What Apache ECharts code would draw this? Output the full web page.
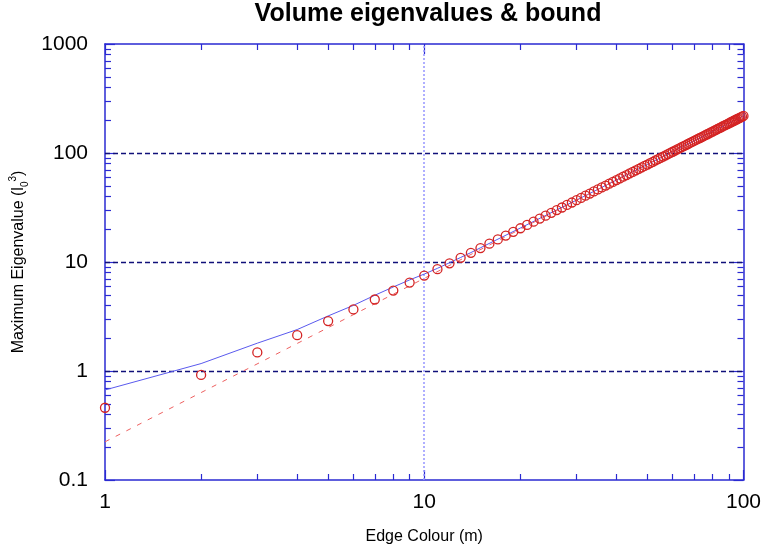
<!DOCTYPE html>
<html><head><meta charset="utf-8">
<script src="https://cdn.jsdelivr.net/npm/echarts@6/dist/echarts.min.js"></script>
<style>html,body{margin:0;padding:0;background:#fff}#c{width:764px;height:553px}</style>
</head><body><div id="c"></div>
<script>
const edgeColour = [
  1,2,3,4,5,6,7,8,9,10,
  11,12,13,14,15,16,17,18,19,20,
  21,22,23,24,25,26,27,28,29,30,
  31,32,33,34,35,36,37,38,39,40,
  41,42,43,44,45,46,47,48,49,50,
  51,52,53,54,55,56,57,58,59,60,
  61,62,63,64,65,66,67,68,69,70,
  71,72,73,74,75,76,77,78,79,80,
  81,82,83,84,85,86,87,88,89,90,
  91,92,93,94,95,96,97,98,99,100];
const maxEigenvalue = [
  0.46,0.92,1.48,2.13,2.87,3.67,4.53,5.47,6.47,7.50,
  8.59,9.73,10.92,12.15,13.43,14.74,16.10,17.49,18.93,20.39,
  21.90,23.44,25.01,26.62,28.26,29.93,31.63,33.37,35.13,36.92,
  38.74,40.60,42.48,44.38,46.32,48.28,50.27,52.28,54.32,56.39,
  58.48,60.60,62.74,64.90,67.09,69.31,71.54,73.80,76.09,78.39,
  80.72,83.07,85.45,87.84,90.26,92.70,95.16,97.64,100.1,102.7,
  105.2,107.8,110.4,113.0,115.6,118.2,120.9,123.6,126.3,129.0,
  131.7,134.5,137.3,140.1,142.9,145.7,148.6,151.5,154.3,157.3,
  160.2,163.1,166.1,169.1,172.1,175.1,178.1,181.1,184.2,187.3,
  190.4,193.5,196.6,199.8,202.9,206.1,209.3,212.5,215.8,219.0];
const boundX = [1,2,3,4,5,6,7,8,9,10,11,12,13,14,15,20,30,50,70,100];
const boundY = [0.67,1.17,1.80,2.40,3.20,4.00,4.95,5.90,6.85,7.75,8.75,9.85,11.0,12.2,13.5,20.5,37.0,78.5,129.1,219.1];
const asymX = [1,2,5,10,20,50,100];
const asymY = [0.224,0.634,2.50,7.08,20.0,79.2,224];
const xMajorTicks = [1,10,100];
const xMinorTicks = [2,3,4,5,6,7,8,9,20,30,40,50,60,70,80,90];
const yMajorTicks = [0.1,1,10,100,1000];
const yMinorTicks = [0.2,0.3,0.4,0.5,0.6,0.7,0.8,0.9,2,3,4,5,6,7,8,9,20,30,40,50,60,70,80,90,200,300,400,500,600,700,800,900];
const xGridValues = [10];
const yGridValues = [1,10,100];

const FONT = "'Liberation Sans', Arial, sans-serif";
const FRAME = '#2a2ad2';
const zip = (a, b) => a.map((v, i) => [v, b[i]]);

function xAx(pos, major, main) {
  return {
    type: 'log', logBase: 10, min: 1, max: 100, position: pos, gridIndex: 0,
    axisLine: { show: main, onZero: false, lineStyle: { color: FRAME, width: 1.5 } },
    axisTick: { show: true, inside: true, length: major ? 10 : 6, customValues: major ? xMajorTicks : xMinorTicks,
      lineStyle: { color: FRAME, width: 1.2 } },
    axisLabel: { show: main && pos === 'bottom', customValues: xMajorTicks, fontSize: 21, margin: 12,
      color: '#000', fontFamily: FONT, formatter: v => String(v) },
    splitLine: { show: false }, minorTick: { show: false },
    name: (main && pos === 'bottom') ? 'Edge Colour (m)' : '', nameLocation: 'middle', nameGap: 49,
    nameTextStyle: { fontSize: 16, color: '#000', fontFamily: FONT }
  };
}
function yAx(pos, major, main) {
  return {
    type: 'log', logBase: 10, min: 0.1, max: 1000, position: pos, gridIndex: 0,
    axisLine: { show: main, onZero: false, lineStyle: { color: FRAME, width: 1.5 } },
    axisTick: { show: true, inside: true, length: major ? 10 : 6, customValues: major ? yMajorTicks : yMinorTicks,
      lineStyle: { color: FRAME, width: 1.2 } },
    axisLabel: { show: main && pos === 'left', customValues: yMajorTicks, fontSize: 21, margin: 17,
      color: '#000', fontFamily: FONT, formatter: v => String(v) },
    splitLine: { show: false }, minorTick: { show: false },
    name: (main && pos === 'left') ? '{n|Maximum Eigenvalue (l}{sub|0}{sup|3}{n|)}' : '',
    nameLocation: 'middle', nameGap: 75, nameRotate: 90,
    nameTextStyle: { fontSize: 16, color: '#000', fontFamily: FONT,
      rich: {
        n: { fontSize: 16, fontFamily: FONT, color: '#000', lineHeight: 22, verticalAlign: 'middle' },
        sub: { fontSize: 10, fontFamily: FONT, color: '#000', verticalAlign: 'bottom', lineHeight: 22 },
        sup: { fontSize: 10, fontFamily: FONT, color: '#000', verticalAlign: 'top', lineHeight: 22 }
      } }
  };
}

const chart = echarts.init(document.getElementById('c'), null, { renderer: 'canvas' });
const gridLines = [];
xGridValues.forEach(v => gridLines.push({ xAxis: v, lineStyle: { color: '#9c9cff', type: [2, 2], width: 1.6 } }));
yGridValues.forEach(v => gridLines.push({ yAxis: v, lineStyle: { color: '#10107a', type: [5, 3], width: 1.3 } }));

chart.setOption({
  animation: false,
  backgroundColor: '#fff',
  title: {
    text: 'Volume eigenvalues & bound', left: 428, top: 2, padding: 0, textAlign: 'center',
    textStyle: { fontSize: 25, fontWeight: 'bold', color: '#000', fontFamily: FONT }
  },
  grid: { left: 104, right: 18, top: 44, bottom: 73, containLabel: false },
  xAxis: [xAx('bottom', true, true), xAx('bottom', false, false), xAx('top', true, true), xAx('top', false, false)],
  yAxis: [yAx('left', true, true), yAx('left', false, false), yAx('right', true, true), yAx('right', false, false)],
  series: [
    {
      type: 'line', name: 'bound', xAxisIndex: 0, yAxisIndex: 0, data: zip(boundX, boundY),
      showSymbol: false, symbol: 'none', lineStyle: { color: '#5a5aee', width: 1 }, z: 2,
      markLine: { silent: true, symbol: 'none', label: { show: false }, data: gridLines, z: 1 }
    },
    {
      type: 'line', name: 'asymptote', xAxisIndex: 0, yAxisIndex: 0, data: zip(asymX, asymY),
      showSymbol: false, symbol: 'none', lineStyle: { color: '#ee6060', width: 1, type: [5, 7] }, z: 3
    },
    {
      type: 'scatter', name: 'eigenvalues', xAxisIndex: 0, yAxisIndex: 0, data: zip(edgeColour, maxEigenvalue),
      symbol: 'circle', symbolSize: 9,
      itemStyle: { color: 'rgba(0,0,0,0)', borderColor: '#d42424', borderWidth: 1.3, opacity: 1 }, z: 4
    }
  ]
});
</script></body></html>
